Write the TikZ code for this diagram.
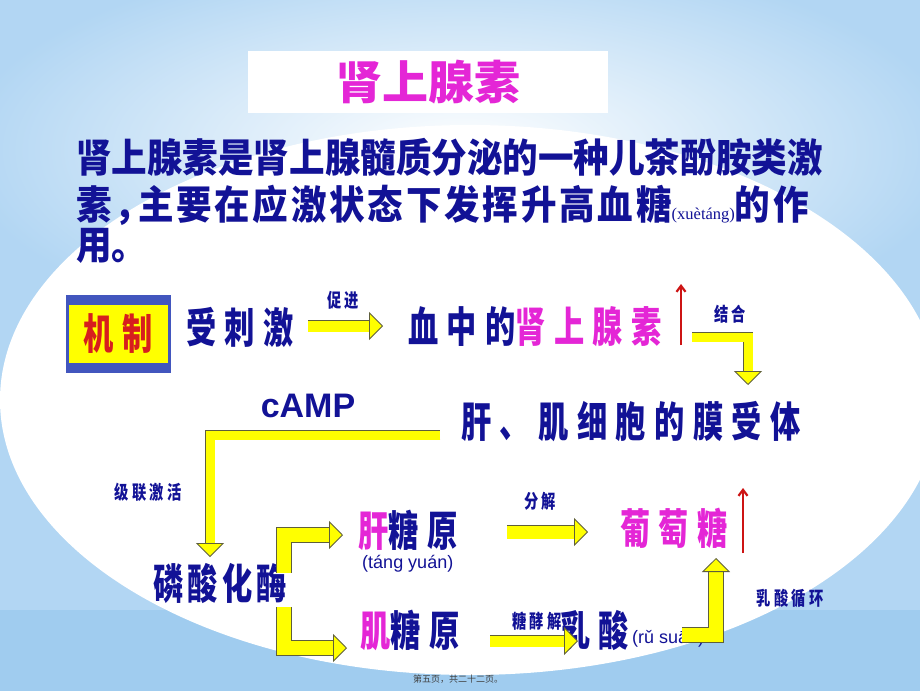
\documentclass[tikz,border=0pt]{standalone}
\usepackage{fontspec}
\usetikzlibrary{arrows.meta, positioning}
\newfontfamily\cjk{Noto Sans CJK SC}
\newfontfamily\cjkbig{Noto Sans CJK SC}[FakeStretch=0.72, LetterSpace=20]
\newfontfamily\cjkmid{Noto Sans CJK SC}[FakeStretch=0.72, LetterSpace=10]
\newfontfamily\cjklbl{Noto Sans CJK SC}[FakeStretch=0.75, LetterSpace=18]
\newfontfamily\cjkpara{Noto Sans CJK SC}[FakeStretch=0.9]
\newfontfamily\cjkparawide{Noto Sans CJK SC}[FakeStretch=0.9, LetterSpace=7]
\newfontfamily\arialfont{Liberation Sans}
\newfontfamily\timesfont{Liberation Serif}
\definecolor{bgblue}{RGB}{178,214,243}
\definecolor{bgdeep}{RGB}{160,204,239}
\definecolor{txtblue}{RGB}{18,18,150}
\definecolor{magentatxt}{RGB}{228,38,214}
\definecolor{redtxt}{RGB}{215,30,30}
\definecolor{boxblue}{RGB}{66,86,190}
\definecolor{arrowyellow}{RGB}{255,255,0}
\definecolor{arrowedge}{RGB}{95,95,60}
\definecolor{arrowred}{RGB}{205,20,20}
\tikzset{
    big/.style={inner sep=0pt, text=txtblue, font=\cjkbig\bfseries\fontsize{42pt}{42pt}\selectfont},
    para/.style={inner sep=0pt, anchor=west, text=txtblue, font=\cjkpara\bfseries\fontsize{39.5pt}{39.5pt}\selectfont},
    lbl/.style={inner sep=0pt, text=txtblue, font=\cjklbl\bfseries\fontsize{19pt}{19pt}\selectfont},
    pinyin/.style={inner sep=0pt, text=txtblue, font=\arialfont\fontsize{18pt}{18pt}\selectfont},
    blockarrow/.style={draw=arrowedge, line width=0.8pt, double=arrowyellow, double distance=#1,
        -{Triangle[length=14pt, width=28pt, fill=arrowyellow, color=arrowedge, line width=0.8pt]}},
    blockarrow/.default=11pt,
    redup/.style={draw=arrowred, line width=2.2pt, -{Straight Barb[length=6pt, width=9pt]}}
}
\begin{document}
\begin{tikzpicture}[x=1pt, y=-1pt]
    \useasboundingbox (0,0) rectangle (920,691);
    \fill[bgblue] (0,0) rectangle (920,691);
    \fill[bgdeep] (0,610) rectangle (920,691);
    \shade[inner color=white, outer color=bgblue] (460,150) ellipse [x radius=500pt, y radius=200pt];
    \fill[white] (470,400) ellipse [x radius=470pt, y radius=275pt];

    \node[fill=white, minimum width=360pt, minimum height=62pt, inner sep=0pt, text=magentatxt,
        font=\cjk\bfseries\fontsize{46pt}{46pt}\selectfont] (title) at (428,82) {肾上腺素};

    \node[para] (p1) at (76,157) {肾上腺素是肾上腺髓质分泌的一种儿茶酚胺类激};
    \node[para, font=\cjkparawide\bfseries\fontsize{39.5pt}{39.5pt}\selectfont] (p2) at (76,205)
        {素，\kern-12pt 主要在应激状态下发挥升高血糖{\timesfont\mdseries\fontsize{16.5pt}{16.5pt}\selectfont(xuètáng)}的作};
    \node[para] (p3) at (76,246) {用。};

    \node[fill=boxblue, minimum width=105pt, minimum height=78pt] (jzbox) at (118,334) {};
    \node[fill=arrowyellow, minimum width=99pt, minimum height=58pt, inner sep=0pt, text=redtxt,
        font=\cjkbig\bfseries\fontsize{42pt}{42pt}\selectfont] (jz) at (118,334) {机制};

    \node[big, anchor=west] (sc) at (186,327) {受刺激};
    \node[big, anchor=west] (xz) at (408,327) {血中的\textcolor{magentatxt}{肾上腺素}};
    \node[big, anchor=west] (sxb) at (461,422) {肝、肌细胞的膜受体};
    \node[inner sep=0pt, text=txtblue, font=\arialfont\bfseries\fontsize{34pt}{34pt}\selectfont] (camp) at (308,406) {cAMP};
    \node[big, anchor=west, font=\cjkmid\bfseries\fontsize{42pt}{42pt}\selectfont] (lsh) at (153,583) {磷酸化酶};
    \node[big, anchor=west] (gty) at (358,530) {\textcolor{magentatxt}{肝}糖原};
    \node[pinyin, below=5pt of gty] (gtyp) {(táng yuán)};
    \node[big, anchor=west, text=magentatxt] (ptt) at (620,528) {葡萄糖};
    \node[big, anchor=west] (jty) at (360,630) {\textcolor{magentatxt}{肌}糖原};
    \node[big, anchor=west] (rs) at (560,631) {乳酸};
    \node[pinyin, anchor=west] (rsp) at (632,639) {(rǔ suān)};

    \node[lbl] (cj) at (343,300) {促进};
    \node[lbl] (jh) at (730,314) {结合};
    \node[lbl] (jl) at (148,492) {级联激活};
    \node[lbl] (fj) at (540,501) {分解};
    \node[lbl] (rsxh) at (790,598) {乳酸循环};

    \draw[blockarrow=11pt] ([xshift=122pt, yshift=1pt]sc.west) -- ([xshift=-25pt, yshift=1pt]xz.west);
    \draw[blockarrow=9pt] ([xshift=284pt, yshift=-10pt]xz.west) -| ([xshift=287pt, yshift=37pt]sxb.west);
    \draw[blockarrow=9pt] ([xshift=-21pt, yshift=-13pt]sxb.west) -| ([xshift=57pt, yshift=26pt]lsh.west);
    \draw[blockarrow=14pt] ([xshift=131pt, yshift=10pt]lsh.west) |- ([xshift=-15pt, yshift=-5pt]gty.west);
    \draw[blockarrow=14pt] ([xshift=131pt, yshift=-24pt]lsh.west) |- ([xshift=-13pt, yshift=-18pt]jty.west);
    \draw[blockarrow=13pt] ([xshift=149pt, yshift=-2pt]gty.west) -- ([xshift=-32pt, yshift=-4pt]ptt.west);
    \draw[blockarrow=11pt] ([xshift=130pt, yshift=-11pt]jty.west) -- ([xshift=18pt, yshift=-10pt]rs.west);
    \draw[blockarrow=14pt] ([xshift=122pt, yshift=-4pt]rs.west) -| ([xshift=96pt, yshift=-30pt]ptt.west);

    \node[lbl] (tjj) at (537,621) {糖酵解};

    \draw[redup] ([xshift=273pt, yshift=-18pt]xz.west) -- ++(0pt,61pt);
    \draw[redup] ([xshift=123pt, yshift=-25pt]ptt.west) -- ++(0pt,65pt);

    \node[inner sep=0pt, text=black!75, font=\cjk\fontsize{9pt}{9pt}\selectfont] (foot) at (458,679) {第五页，共二十二页。};
\end{tikzpicture}
\end{document}
